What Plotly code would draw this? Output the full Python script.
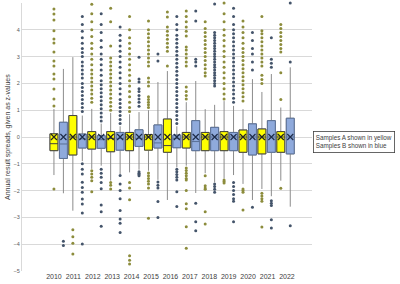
import plotly.graph_objects as go

years = [str(y) for y in range(2010, 2023)]

# Samples A (yellow)
a_q1 = [-0.51, -0.67, -0.45, -0.55, -0.51, -0.49, -0.57, -0.41, -0.51, -0.51, -0.57, -0.63, -0.57]
a_med = [-0.25, 0.0, 0.0, -0.05, 0.0, 0.0, -0.32, 0.0, 0.0, 0.0, 0.0, 0.0, 0.0]
a_q3 = [0.12, 0.80, 0.20, 0.20, 0.17, 0.09, 0.67, 0.17, 0.17, 0.20, 0.26, 0.30, 0.20]
a_lo = [-1.42, -2.75, -1.19, -1.63, -1.32, -1.26, -2.35, -1.07, -1.35, -1.55, -1.75, -1.94, -1.63]
a_hi = [1.04, 2.98, 1.05, 0.90, 0.85, 1.00, 2.46, 1.30, 1.04, 1.34, 1.04, 1.68, 1.10]
a_mean = [0.0] * 13
a_out = [
    [1.16, 1.42, 1.79, 2.16, 2.35, 2.65, 2.84, 3.17, 3.51, 3.66, 3.96, 4.37, 4.59, 4.78, -1.94],
    [-3.46, -3.72, -3.96, -4.37],
    [1.3, 1.45, 1.6, 1.75, 1.9, 2.05, 2.2, 2.35, 2.5, 2.7, 2.9, 3.1, 3.3, 3.5, 3.75, 4.0, 4.3, 4.6, 4.95,
     -1.26, -1.38, -1.5, -1.63, -2.04],
    [1.0, 1.15, 1.3, 1.45, 1.6, 1.75, 1.9, 2.05, 2.2, 2.35, 2.5, 2.65, 2.8, 2.95, 3.4, 4.3, 4.8,
     -1.7, -1.8, -1.94],
    [0.95, 1.1, 1.3, 1.5, 1.7, 1.9, 2.1, 2.3, 2.5, 2.7, 2.9, 3.1, 3.3, 3.5, 3.7, 4.0, 4.5,
     -1.7, -1.9, -2.34, -4.43, -4.6, -4.74],
    [1.1, 1.2, 1.3, 1.4, 1.5, 1.9, 2.05, 2.2, 2.65, 2.8, 2.95, 3.1, 3.25, 3.4, 3.55, 3.7, 3.85, 4.0, 4.33,
     -1.34, -1.45, -1.55, -1.65, -1.75, -1.9, -3.03],
    [2.65, 3.2, 3.35, 3.5, 3.65, 3.8, 3.95, 4.1, 4.48, 4.66],
    [1.42, 1.55, 1.7, 1.87, 2.65, 2.8, 2.95, 3.1, 3.25, 3.36, 3.77, 3.95, 4.1, 4.3, 4.5, 4.7,
     -1.16, -1.25, -1.35, -1.45, -1.55, -1.6, -2.0, -2.49, -2.68, -3.35, -4.15],
    [2.28, 2.4, 2.55, 2.7, 2.85, 3.0, 3.15, 3.3, 3.45, 3.6, 3.75, 3.9, 4.05, 4.3,
     -1.45, -1.82, -1.9, -1.95, -2.79, -3.25],
    [1.42, 1.6, 1.8, 2.0, 2.2, 2.4, 2.6, 2.8, 3.0, 3.2, 3.4, 3.6, 3.8, 4.0, 4.3, 4.6, 5.0,
     -1.6, -1.66, -1.72],
    [1.34, 1.5, 1.65, 1.8, 1.95, 2.1, 2.25, 2.4, 2.55, 2.7, 2.85, 3.0, 3.15, 3.3, 3.5, 3.7, 3.9, 4.1, 4.33,
     -1.94, -2.0, -2.06, -2.72],
    [2.0, 2.15, 2.3, 2.65, 2.8, 2.95, 3.1, 3.25, 3.4, 3.55, 3.7, 3.85, 3.96, 4.5,
     -2.1, -2.2, -2.3, -2.4, -3.36],
    [1.4, 2.4, 3.17, 3.3, 3.45, 3.6, 3.75, 3.9, 4.05, 4.2, -1.91],
]

# Samples B (blue)
b_q1 = [-0.80, -0.41, -0.42, -0.49, -0.35, -0.41, -0.40, -0.51, -0.51, -0.51, -0.67, -0.57, -0.63]
b_med = [-0.26, -0.07, -0.10, -0.05, -0.05, -0.22, -0.05, -0.17, 0.0, 0.0, 0.0, 0.0, 0.0]
b_q3 = [0.55, 0.11, 0.05, 0.17, 0.27, 0.45, 0.07, 0.61, 0.36, 0.17, 0.49, 0.61, 0.70]
b_lo = [-2.10, -0.90, -1.07, -1.38, -1.22, -1.60, -1.13, -2.09, -1.69, -1.42, -2.35, -2.21, -2.60]
b_hi = [2.54, 0.80, 0.50, 0.40, 0.93, 2.05, 0.40, 2.09, 1.20, 1.16, 2.16, 2.35, 2.60]
b_mean = [0.0] * 13
b_out = [
    [-3.89, -4.05],
    [0.95, 1.1, 1.25, 1.4, 1.55, 1.7, 1.85, 2.0, 2.2, 2.35, 2.5, 2.65, 2.8, 3.0, 3.15, 3.3, 3.5, 3.7, 3.95, 4.2, 4.5,
     -1.0, -1.2, -1.38, -1.69, -1.88, -2.06, -2.31, -2.5, -2.84, -3.99],
    [0.6, 0.75, 0.9, 1.05, 1.2, 1.35, 1.5, 1.65, 1.8, 1.95, 2.1, 2.3, 2.5, 2.7, 2.9, 3.1, 3.35, 3.6, 3.9, 4.2, 4.6,
     -1.2, -1.35, -1.5, -1.7, -1.93, -2.54, -2.79, -3.33],
    [0.5, 0.65, 0.8, 0.95, 1.1, 1.25, 1.4, 1.6, 1.8, 2.0, 2.2, 2.4, 2.6, 2.8, 3.0, 3.2, 3.4, 3.6, 3.8, 4.1,
     -1.44, -1.75, -2.0, -2.3, -2.74, -3.06, -3.22, -3.56],
    [1.15, 1.3, 1.42, 1.55, 1.7, 1.8, 2.05, 2.16, 2.98, -1.3, -1.35, -1.4, -1.45],
    [2.84, 3.1, -1.68, -1.8, -1.9, -2.41, -3.0],
    [0.5, 0.65, 0.8, 0.95, 1.1, 1.25, 1.4, 1.55, 1.7, 1.85, 2.0, 2.15, 2.3, 2.45, 2.6, 2.75, 2.9, 3.05, 3.2, 3.35,
     3.5, 3.65, 3.8, 4.0, 4.2, 4.5, -1.2, -1.3, -1.4, -1.5, -1.6, -2.04, -2.59],
    [2.65, 2.8, 2.9, 4.33, 4.7, -2.47, -3.16, -3.5],
    [1.9, 2.0, 2.1, 2.2, 2.3, 2.4, 2.5, 2.6, 2.7, 2.8, 2.9, 3.0, 3.1, 3.2, 3.3, 3.4, 3.5, 3.6, 3.7, 3.8, 3.9, 4.96,
     -1.75, -1.85, -1.95, -2.06],
    [1.3, 1.45, 1.6, 1.75, 1.9, 2.05, 2.2, 2.35, 2.5, 2.65, 2.8, 2.95, 3.1, 3.25, 3.4, 3.55, 3.7, 3.85, 4.0, 4.2,
     4.5, 4.8, -1.7, -1.85, -2.0, -2.15, -2.3, -2.4, -3.16],
    [2.5, 2.8, 3.1, 3.3, 3.6, 3.9, -2.62],
    [2.6, 2.75, 2.9, 3.7, -2.38, -2.47, -2.56, -3.09, -3.4],
    [2.8, 5.0, -3.31],
]

legend_text = "Samples A shown in yellow<br>Samples B shown in blue"
y_title = "Annual result spreads, given as z-values"

n = len(years)
xa = list(range(n))
xb = [i + 0.5 for i in range(n)]
BW = 0.42

fig = go.Figure()


def add_series(xs, q1, med, q3, lo, hi, mean, outs, fill, edge, outcol, xcol):
    fig.add_trace(go.Box(x=xs, q1=q1, median=med, q3=q3, lowerfence=lo, upperfence=hi,
                         width=BW, whiskerwidth=0, fillcolor=fill,
                         line=dict(color="#8c8c8c", width=1), hoverinfo="skip", showlegend=False))
    fig.add_trace(go.Box(x=xs, q1=q1, median=med, q3=q3, lowerfence=q1, upperfence=q3,
                         width=BW, whiskerwidth=0, fillcolor=fill,
                         line=dict(color=edge, width=1), showlegend=False))
    ox, oy = [], []
    for x, vals in zip(xs, outs):
        for v in vals:
            ox.append(x)
            oy.append(v)
    fig.add_trace(go.Scatter(x=ox, y=oy, mode="markers", cliponaxis=False, showlegend=False,
                             marker=dict(size=3, color=outcol, line=dict(width=0))))
    fig.add_trace(go.Scatter(x=xs, y=mean, mode="markers", showlegend=False,
                             marker=dict(symbol="x-thin", size=6, line=dict(color=xcol, width=1.2))))


add_series(xa, a_q1, a_med, a_q3, a_lo, a_hi, a_mean, a_out, "#FFFF00", "#404040", "#8c8c3c", "#222222")
add_series(xb, b_q1, b_med, b_q3, b_lo, b_hi, b_mean, b_out, "#8FAADC", "#5a7096", "#44546a", "#1f2d4a")

fig.update_layout(
    width=400, height=284,
    margin=dict(l=22, r=88, t=3, b=13, autoexpand=False),
    plot_bgcolor="white", paper_bgcolor="white",
    boxmode="overlay",
    font=dict(family="Liberation Sans, Arial, sans-serif", color="#404040"),
    xaxis=dict(range=[-1.69, 13.65], tickmode="array", automargin=False,
               tickvals=[i * 1.027 for i in range(n)], ticktext=years,
               showgrid=False, zeroline=False, showline=False, ticks="",
               tickfont=dict(size=7, color="#404040")),
    yaxis=dict(range=[-5, 5], dtick=1, showgrid=True, gridcolor="#d9d9d9", gridwidth=1,
               zeroline=False, showline=True, linecolor="#d9d9d9", ticks="", automargin=False,
               tickfont=dict(size=5.5, color="#595959")),
    annotations=[
        dict(text=legend_text, xref="paper", yref="paper", x=1.0, y=0.522,
             xanchor="left", yanchor="top", xshift=1, showarrow=False, align="left",
             font=dict(size=6.3, color="#404040"), bordercolor="#404040", borderwidth=0.8,
             borderpad=2, bgcolor="white"),
        dict(text=y_title, xref="paper", yref="paper", x=0, y=0.5, xshift=-14,
             xanchor="center", yanchor="middle", textangle=-90, showarrow=False,
             font=dict(size=7, color="#404040")),
    ],
)

fig.write_html("out.html", config={"displayModeBar": False},
               post_script="document.body.style.margin='0';document.body.style.padding='0';")
